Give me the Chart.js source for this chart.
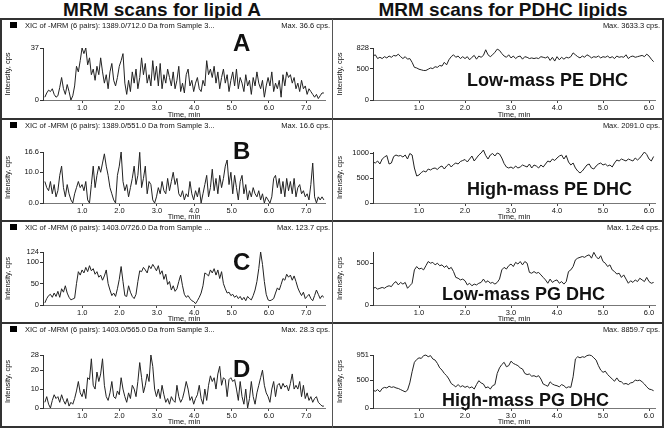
<!DOCTYPE html>
<html>
<head>
<meta charset="utf-8">
<script src="https://cdn.jsdelivr.net/npm/chart.js@4.4.0/dist/chart.umd.min.js"></script>
<style>
body { margin:0; background:#fff; width:664px; height:428px; position:relative; overflow:hidden;
       font-family:"Liberation Sans", Arial, sans-serif; color:#111; }
.abs { position:absolute; }
.title { font-weight:bold; font-size:19px; line-height:20px; top:0; text-align:center; white-space:nowrap; }
.hdr { font-size:7.5px; line-height:9px; white-space:nowrap; }
.tag { font-weight:bold; font-size:24px; line-height:24px; }
.lbl { font-weight:bold; font-size:18px; line-height:18px; white-space:nowrap; }
.hl { height:2px; background:#333; left:0; width:664px; }
.vl { width:1px; background:#555; top:19px; height:409px; }
.sq { width:7px; height:6px; background:#000; }
canvas { position:absolute; }
</style>
</head>
<body>
<div class="abs title" style="left:22px;width:280px">MRM scans for lipid A</div>
<div class="abs title" style="left:353px;width:300px">MRM scans for PDHC lipids</div>
<script>
// x-axis spans (min)
var leftSpan = 7.5;
var rightSpan = 6.1;
var xTicksLeft = [1, 2, 3, 4, 5, 6, 7];
var xTicksRight = [1, 2, 3, 4, 5, 6];

// lipid A traces, cps
var lipidA_712 = [
  2, 5, 7, 6, 8, 4, 2, 3, 9, 16,
  8, 4, 11, 6, 0, 3, 10, 24, 20, 28,
  37, 33, 37, 25, 30, 18, 22, 14, 24, 18,
  30, 20, 12, 18, 8, 20, 26, 14, 10, 16,
  24, 28, 33, 12, 4, 14, 6, 20, 12, 22,
  8, 16, 30, 18, 26, 12, 18, 10, 28, 14,
  24, 10, 26, 8, 18, 12, 22, 16, 10, 20,
  8, 14, 24, 6, 12, 5, 18, 22, 10, 14,
  6, 12, 16, 8, 6, 14, 10, 28, 18, 22,
  16, 24, 12, 20, 8, 16, 22, 12, 18, 6,
  14, 20, 10, 22, 8, 16, 12, 6, 18, 10,
  14, 4, 16, 10, 20, 12, 8, 14, 2, 10,
  16, 10, 20, 6, 12, 8, 14, 2, 18, 10,
  20, 16, 18, 12, 16, 8, 12, 6, 14, 8,
  10, 4, 8, 6, 4, 2, 4, 1, 3, 5,
  5
];
var lipidA_551 = [
  7, 5, 4, 7, 3, 6, 2, 4, 9, 12,
  5, 2, 6, 3, 1, 0, 3, 5, 7, 5,
  6, 4, 7, 1, 0, 6, 12, 5, 9, 12,
  10, 13, 16, 12, 9, 5, 3, 1, 0, 9,
  12, 16.6, 7, 4, 6, 2, 5, 8, 12, 6,
  9, 16.5, 5, 8, 12, 3, 7, 6, 1, 0,
  2, 5, 3, 7, 4, 3, 8, 4, 7, 10,
  6, 8, 3, 2, 4, 1, 3, 2, 7, 3,
  1, 4, 2, 5, 0, 3, 6, 9, 2, 5,
  11, 4, 8, 3, 9, 5, 8, 12, 14, 6,
  10, 3, 9, 5, 1, 7, 9, 3, 6, 1,
  4, 2, 5, 3, 2, 4, 1, 3, 0, 2,
  1, 0, 2, 8, 9, 5, 8, 3, 7, 2,
  8, 4, 7, 3, 8, 2, 5, 6, 3, 4,
  2, 3, 1, 6, 13, 2, 0, 2, 1, 2,
  1
];
var lipidA_726 = [
  5, 15, 22, 25, 18, 28, 20, 32, 18, 38,
  30, 45, 28, 18, 12, 14, 16, 50, 78, 70,
  82, 75, 88, 78, 92, 80, 85, 72, 78, 65,
  70, 58, 68, 82, 50, 35, 22, 28, 20, 38,
  60, 90, 55, 22, 20, 45, 30, 20, 15, 25,
  55, 80, 78, 88, 82, 75, 92, 85, 95, 88,
  80, 92, 72, 80, 60, 72, 48, 55, 35, 45,
  32, 38, 55, 70, 45, 25, 18, 22, 15, 10,
  8, 3, 10, 18, 28, 45, 75, 72, 68, 82,
  75, 85, 70, 82, 62, 78, 50, 38, 28, 30,
  22, 25, 18, 22, 15, 20, 12, 18, 10, 20,
  15, 12, 22, 35, 55, 85, 124, 95, 55, 25,
  12, 10, 12, 15, 28, 40, 35, 48, 62, 58,
  72, 65, 70, 58, 68, 55, 40, 30, 22, 30,
  15, 20, 25, 15, 10, 22, 35, 25, 15, 22,
  18
];
var lipidA_565 = [
  3, 6, 2, 0, 4, 7, 5, 6, 3, 7,
  4, 2, 5, 1, 3, 2, 5, 9, 14, 8,
  6, 10, 5, 16, 15, 26, 12, 10, 19, 14,
  18, 26, 12, 6, 4, 8, 14, 6, 5, 9,
  7, 16, 10, 6, 3, 8, 5, 12, 10, 6,
  14, 24, 16, 8, 12, 18, 14, 28, 22, 10,
  6, 10, 5, 12, 7, 3, 5, 2, 6, 4,
  3, 12, 6, 3, 5, 9, 14, 10, 4, 6,
  2, 5, 7, 12, 5, 2, 10, 4, 12, 17,
  14, 16, 10, 18, 22, 12, 16, 15, 6, 15,
  16, 14, 15, 10, 4, 14, 6, 2, 10, 0,
  5, 14, 6, 2, 8, 12, 16, 20, 12, 8,
  6, 3, 10, 14, 6, 12, 13, 10, 13, 11,
  12, 9, 13, 18, 10, 12, 10, 14, 6, 12,
  5, 8, 4, 6, 3, 5, 6, 3, 2, 1,
  1
];

// PDHC traces, cps
var peLow = [
  700, 720, 660, 680, 660, 690, 670, 700, 680, 710,
  700, 730, 690, 660, 690, 650, 660, 600, 520, 510,
  490, 480, 470, 470, 490, 510, 500, 530, 520, 550,
  540, 600, 560, 640, 690, 720, 680, 700, 660, 690,
  660, 690, 640, 680, 710, 650, 700, 680, 710, 800,
  720, 690, 720, 760, 810, 790, 740, 700, 680, 720,
  670, 700, 660, 690, 700, 650, 690, 680, 660, 670,
  660, 670, 660, 690, 680, 670, 690, 630, 680, 620,
  690, 640, 680, 650, 680, 670, 690, 750, 720, 690,
  670, 700, 680, 720, 700, 670, 690, 680, 700, 670,
  690, 680, 700, 670, 690, 660, 700, 680, 690, 680,
  720, 660, 690, 700, 680, 690, 700, 710, 690, 730,
  700, 650, 610
];
var peHigh = [
  820, 800, 840, 780, 880, 920, 950, 780, 800, 930,
  960, 940, 950, 920, 960, 880, 990, 960, 700, 540,
  560, 610, 640, 620, 680, 660, 690, 700, 670, 720,
  740, 680, 740, 780, 720, 770, 800, 780, 830, 850,
  870, 820, 880, 940, 840, 900, 960, 1000, 1060, 950,
  880, 960, 990, 940, 1000, 980, 900, 790, 720, 700,
  720, 690, 740, 700, 720, 760, 740, 720, 780, 700,
  760, 740, 700, 760, 720, 780, 840, 820, 880, 850,
  900, 940, 960, 880, 950, 820, 760, 800, 700, 640,
  600, 640, 700, 760, 780, 700, 680, 740, 780, 800,
  760, 780, 740, 760, 720, 800, 860, 840, 880, 860,
  840, 880, 860, 840, 900, 860, 900, 960, 1020, 970,
  880, 840, 930
];
var pgLow = [
  200, 210, 190, 200, 210, 200, 220, 230, 220, 260,
  280, 240, 270, 250, 270, 200, 230, 260, 420, 460,
  430, 440, 420, 470, 520, 500, 510, 480, 500, 470,
  480, 450, 470, 430, 450, 400, 330, 320, 300, 310,
  290, 240, 260, 230, 250, 240, 260, 270, 310, 270,
  290, 260, 270, 250, 270, 310, 420, 450, 430, 470,
  490, 460, 510, 490, 520, 480, 520, 500, 390, 380,
  400, 380, 390, 360, 330, 300, 260, 310, 270, 290,
  300, 260, 280, 250, 280, 400, 420, 460, 540, 560,
  570, 580, 570, 590, 600, 560, 630, 580, 550, 590,
  520, 500, 460, 480, 420, 400, 370, 380, 330, 360,
  310, 260, 290, 270, 300, 280, 320, 300, 280, 330,
  280, 260, 270
];
var pgHigh = [
  320, 300, 330, 290, 350, 370, 360, 390, 370, 380,
  360, 350, 330, 310, 290, 320, 450, 650, 820, 870,
  900, 890, 940, 950, 920, 940, 880, 860, 800, 720,
  680, 620, 580, 520, 440, 410, 380, 420, 380, 400,
  370, 390, 360, 380, 340, 420, 490, 450, 430, 360,
  380, 340, 400, 420, 620, 720, 780, 820, 740, 760,
  840, 800, 780, 760, 720, 700, 620, 600, 610, 570,
  580, 560, 580, 520, 430, 410, 390, 470, 430, 410,
  400, 380, 420, 400, 360, 380, 370, 560, 880, 920,
  900, 920, 910, 940, 950, 940, 900, 860, 760, 680,
  640, 660, 600, 560, 520, 480, 540, 480, 470, 430,
  440, 420, 450, 460, 500, 490, 500, 470, 430, 380,
  340, 330, 310
];

// y-axis tick values and their printed labels
var yTicksA = [0, 37], yLabelsA = ["0", "37"];
var yTicksB = [0, 10, 16.6], yLabelsB = ["0.0", "10.0", "16.6"];
var yTicksC = [0, 50, 100, 124], yLabelsC = ["0", "50", "100", "124"];
var yTicksD = [0, 10, 20, 28], yLabelsD = ["0", "10", "20", "28"];
var yTicksPE1 = [0, 500, 828], yLabelsPE1 = ["0", "500", "828"];
var yTicksPE2 = [0, 500, 1000], yLabelsPE2 = ["0", "500", "1000"];
var yTicksPG1 = [0, 500], yLabelsPG1 = ["0", "500"];
var yTicksPG2 = [0, 500, 951], yLabelsPG2 = ["0", "500", "951"];

var headersLeft = [
  "XIC of -MRM (6 pairs): 1389.0/712.0 Da  from Sample 3...",
  "XIC of -MRM (6 pairs): 1389.0/551.0 Da  from Sample 3...",
  "XIC of -MRM (6 pairs): 1403.0/726.0 Da  from Sample ...",
  "XIC of -MRM (6 pairs): 1403.0/565.0 Da  from Sample 3..."
];
var maxLeft = ["Max. 36.6 cps.", "Max. 16.6 cps.", "Max. 123.7 cps.", "Max. 28.3 cps."];
var maxRight = ["Max. 3633.3 cps.", "Max. 2091.0 cps.", "Max. 1.2e4 cps.", "Max. 8859.7 cps."];
var tags = ["A", "B", "C", "D"];
var names = ["Low-mass PE DHC", "High-mass PE DHC", "Low-mass PG DHC", "High-mass PG DHC"];

// page layout (px)
var rows = [
  { line: 19,  top: 48,  zero: 99,  bottom: 119 },
  { line: 119, top: 152, zero: 202, bottom: 221 },
  { line: 221, top: 252, zero: 304, bottom: 323 },
  { line: 323, top: 355, zero: 407, bottom: 426 }
];

function addDiv(cls, css, text) {
  var d = document.createElement("div");
  d.className = "abs " + cls;
  d.style.cssText = css;
  if (text) d.textContent = text;
  document.body.appendChild(d);
  return d;
}

var fam = '"Liberation Sans", Arial, sans-serif';

function makePanel(left, width, axisX, areaRight, row, xMin, xMax, values, yMax, yTicks, yLabels, xTicks) {
  var c = document.createElement("canvas");
  var h = row.bottom - row.line - 1;
  c.width = width; c.height = h;
  c.style.left = left + "px"; c.style.top = (row.line + 1) + "px";
  c.style.width = width + "px"; c.style.height = h + "px";
  document.body.appendChild(c);

  var pts = values.map(function (v, i) {
    return { x: i * (xMax - 0.03) / (values.length - 1), y: v };
  });

  new Chart(c, {
    type: "line",
    data: { datasets: [{ data: pts, borderColor: "#222", borderWidth: 1, pointRadius: 0, tension: 0, fill: false, clip: 4 }] },
    options: {
      responsive: false,
      animation: false,
      devicePixelRatio: 1,
      layout: { padding: { top: row.top - row.line - 1, right: left + width - areaRight, left: 0, bottom: 0 } },
      plugins: { legend: { display: false }, tooltip: { enabled: false } },
      scales: {
        x: {
          type: "linear", min: xMin, max: xMax,
          afterBuildTicks: function (s) { s.ticks = xTicks.map(function (v) { return { value: v }; }); },
          afterFit: function (s) { s.height = row.bottom - row.zero - 1; },
          ticks: { callback: function (v) { return v.toFixed(1); }, font: { size: 7.5, family: fam }, color: "#111", padding: 0, maxRotation: 0, autoSkip: false },
          grid: { display: true, drawOnChartArea: false, drawTicks: true, tickLength: 3, color: "#444" },
          border: { display: true, color: "#777", width: 1 },
          title: { display: true, text: "Time, min", font: { size: 7.5, family: fam }, color: "#111", padding: 0 }
        },
        y: {
          min: 0, max: yMax,
          afterBuildTicks: function (s) { s.ticks = yTicks.map(function (v) { return { value: v }; }); },
          afterFit: function (s) { s.width = axisX - left; },
          ticks: { callback: function (v, i) { return yLabels[i]; }, font: { size: 7.5, family: fam }, color: "#111", padding: 1, autoSkip: false },
          grid: { display: true, drawOnChartArea: false, drawTicks: true, tickLength: 3, color: "#333" },
          border: { display: true, color: "#333", width: 1 },
          title: { display: true, text: "Intensity, cps", font: { size: 7.5, family: fam }, color: "#111", padding: { top: 2, bottom: 0 } }
        }
      }
    }
  });
}

var leftData = [lipidA_712, lipidA_551, lipidA_726, lipidA_565];
var leftMax = [37, 16.6, 124, 28];
var leftTicks = [yTicksA, yTicksB, yTicksC, yTicksD];
var leftLabels = [yLabelsA, yLabelsB, yLabelsC, yLabelsD];
var rightData = [peLow, peHigh, pgLow, pgHigh];
var rightMax = [828, 1020, 634, 951];
var rightTicks = [yTicksPE1, yTicksPE2, yTicksPG1, yTicksPG2];
var rightLabels = [yLabelsPE1, yLabelsPE2, yLabelsPG1, yLabelsPG2];

rows.forEach(function (row, r) {
  makePanel(1, 330, 43, 325, row, -0.05, leftSpan, leftData[r], leftMax[r], leftTicks[r], leftLabels[r], xTicksLeft);
  makePanel(333, 330, 373, 655, row, 0, rightSpan + 0.03, rightData[r], rightMax[r], rightTicks[r], rightLabels[r], xTicksRight);

  addDiv("sq", "left:10px;top:" + (row.line + 3) + "px");
  addDiv("hdr", "left:25px;top:" + (row.line + 2) + "px", headersLeft[r]);
  addDiv("hdr", "right:" + (664 - 330) + "px;top:" + (row.line + 2) + "px", maxLeft[r]);
  addDiv("hdr", "right:4px;top:" + (row.line + 2) + "px", maxRight[r]);
  addDiv("hl", "top:" + (row.line - 1) + "px");
});
addDiv("hl", "top:426px");
addDiv("vl", "left:0px;width:2px;background:#333");
addDiv("vl", "left:332px");
addDiv("vl", "left:662px;width:2px;background:#333");

// panel letters and compound names
var tagTops = [31, 139, 250, 357];
var nameTops = [71, 180, 285, 391];
tags.forEach(function (t, r) {
  addDiv("tag", "left:233px;top:" + tagTops[r] + "px", t);
  addDiv("lbl", "left:" + (r < 2 ? 467 : 442) + "px;top:" + nameTops[r] + "px", names[r]);
});
</script>
</body>
</html>
